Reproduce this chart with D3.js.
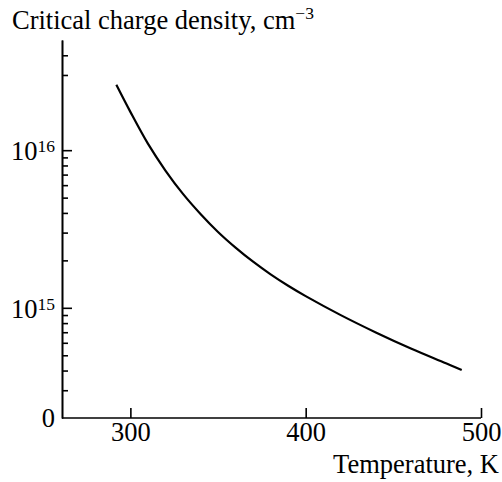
<!DOCTYPE html>
<html>
<head>
<meta charset="utf-8">
<script src="https://cdn.jsdelivr.net/npm/d3@7/dist/d3.min.js"></script>
<style>
  html, body { margin: 0; padding: 0; background: #fff; }
  svg text { font-family: "Liberation Serif", "Times New Roman", serif; fill: #000; }
</style>
</head>
<body>
<svg id="chart" width="502" height="482"></svg>
<script>
// Critical charge density vs. temperature
const temperature = [292, 300, 310, 320, 330, 340, 350, 360, 370, 380, 390, 400, 420, 440, 460, 480, 489];
const density = [2.6e16, 1.75e16, 1.1e16, 7.43e15, 5.28e15, 3.94e15, 3.03e15, 2.41e15, 1.96e15,
                 1.63e15, 1.38e15, 1.186e15, 8.99e14, 6.98e14, 5.52e14, 4.45e14, 4.03e14];

const xTicks = [300, 400, 500];
const yMajor = [1e15, 1e16];
const yMajorExp = ["15", "16"];
const yMinor = [3e14, 4e14, 5e14, 6e14, 7e14, 8e14, 9e14,
                2e15, 3e15, 4e15, 5e15, 6e15, 7e15, 8e15, 9e15,
                3e16, 4e16];

const FS = 26.5, SUP = 17.5;

const svg = d3.select("#chart");
const x0 = 62, x1 = 481, yTop = 40, yBot = 418;

const x = d3.scaleLinear().domain([261, 500]).range([x0, x1]);
const y = d3.scaleLog().domain([2e14, 5e16]).range([yBot, yTop]);

// y axis: inward ticks
const yAxisMinor = svg.append("g").attr("transform", `translate(${x0},0)`)
  .call(d3.axisLeft(y).tickValues(yMinor).tickSizeInner(-6).tickSizeOuter(0).tickFormat(""));
const yAxisMajor = svg.append("g").attr("transform", `translate(${x0},0)`)
  .call(d3.axisLeft(y).tickValues(yMajor).tickSizeInner(-10).tickSizeOuter(0).tickPadding(7).tickFormat(""));

[yAxisMinor, yAxisMajor].forEach(g => {
  g.selectAll("path, line").attr("stroke", "#000").attr("stroke-width", 1.6);
});

yAxisMajor.selectAll(".tick text")
  .attr("font-size", FS)
  .attr("dy", "0.35em")
  .each(function(d) {
    const t = d3.select(this);
    t.text(null);
    t.append("tspan").text("10");
    t.append("tspan").attr("font-size", SUP).attr("dy", "-8").text(yMajorExp[yMajor.indexOf(d)]);
  });

// zero label at the axis corner
svg.append("text")
  .attr("x", x0 - 7).attr("y", y(2e14))
  .attr("dy", "0.33em")
  .attr("text-anchor", "end")
  .attr("font-size", FS)
  .text("0");

// x axis: inward ticks
const xAxis = svg.append("g").attr("transform", `translate(0,${yBot})`)
  .call(d3.axisBottom(x).tickValues(xTicks).tickSizeInner(-10).tickSizeOuter(0).tickPadding(4));
xAxis.selectAll("path, line").attr("stroke", "#000").attr("stroke-width", 1.6);
xAxis.selectAll(".tick text").attr("font-size", FS);
xAxis.select(".domain").attr("d", `M${x0},0H${x1}`);

// axis titles
const yTitle = svg.append("text").attr("x", 12).attr("y", 29).attr("font-size", FS);
yTitle.append("tspan").text("Critical charge density, cm");
yTitle.append("tspan").attr("font-size", SUP).attr("dy", "-10").text("\u22123");

svg.append("text")
  .attr("x", 499).attr("y", 473)
  .attr("text-anchor", "end")
  .attr("font-size", FS)
  .text("Temperature, K");

// curve
const line = d3.line()
  .x((d, i) => x(temperature[i]))
  .y(d => y(d))
  .curve(d3.curveCatmullRom.alpha(0.5));

svg.append("path")
  .datum(density)
  .attr("d", line)
  .attr("fill", "none")
  .attr("stroke", "#000")
  .attr("stroke-width", 2.2);
</script>
</body>
</html>
